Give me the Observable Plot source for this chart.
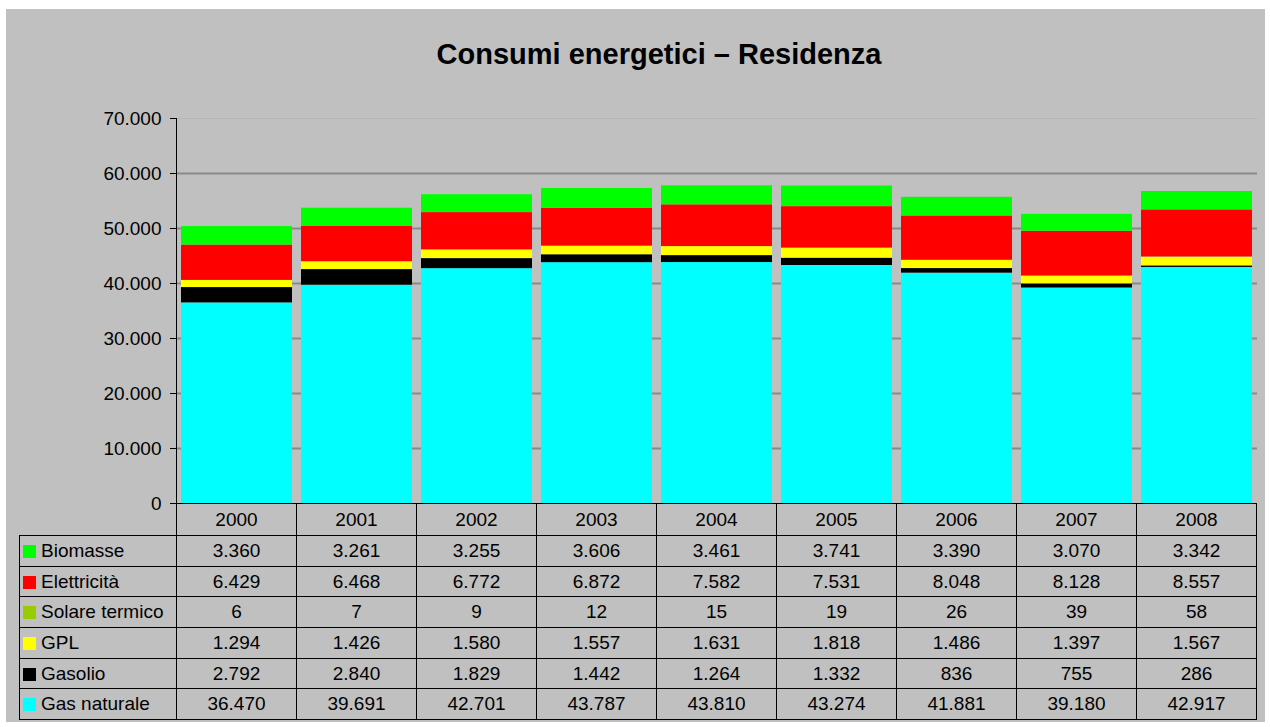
<!DOCTYPE html>
<html>
<head>
<meta charset="utf-8">
<script src="https://cdn.jsdelivr.net/npm/d3@7"></script>
<script src="https://cdn.jsdelivr.net/npm/@observablehq/plot@0.6"></script>
<style>
  html, body { margin: 0; padding: 0; background: #ffffff; }
  #frame { position: relative; width: 1270px; height: 727px; overflow: hidden; font-family: "Liberation Sans", Arial, sans-serif; color: #000; }
  #bg { position: absolute; left: 6px; top: 9px; width: 1259px; height: 713px; background: #c0c0c0; }
  #title { position: absolute; left: 359px; width: 600px; top: 38px; text-align: center; font-size: 29px; font-weight: bold; white-space: nowrap; }
  #chart { position: absolute; left: 0; top: 0; }
  #tbl { position: absolute; left: 19px; top: 503px; border-collapse: collapse; table-layout: fixed; font-size: 19px; }
  #tbl td { border: 1px solid #000; padding: 0; text-align: center; white-space: nowrap; overflow: hidden; }
  #tbl tr.head td { height: 31px; }
  #tbl tr.body td { height: 29.7px; }
  #tbl td.blank { border: none; }
  #tbl td.lab { text-align: left; padding-left: 3px; }
  .sw { display: inline-block; width: 13px; height: 13px; margin-right: 5px; vertical-align: -1px; }
</style>
</head>
<body>
<div id="frame">
  <div id="bg"></div>
  <div id="title">Consumi energetici – Residenza</div>
  <div id="chart"></div>
</div>
<script>
const years = ["2000","2001","2002","2003","2004","2005","2006","2007","2008"];
const seriesNames = ["Gas naturale","Gasolio","GPL","Solare termico","Elettricità","Biomasse"];
const seriesColors = ["#00ffff","#000000","#ffff00","#99cc00","#ff0000","#00ff00"];
const gasNaturale  = [36470, 39691, 42701, 43787, 43810, 43274, 41881, 39180, 42917];
const gasolio      = [2792, 2840, 1829, 1442, 1264, 1332, 836, 755, 286];
const gpl          = [1294, 1426, 1580, 1557, 1631, 1818, 1486, 1397, 1567];
const solareTermico= [6, 7, 9, 12, 15, 19, 26, 39, 58];
const elettricita  = [6429, 6468, 6772, 6872, 7582, 7531, 8048, 8128, 8557];
const biomasse     = [3360, 3261, 3255, 3606, 3461, 3741, 3390, 3070, 3342];
const yTicks = [0, 10000, 20000, 30000, 40000, 50000, 60000, 70000];
const tableOrder = ["Biomasse","Elettricità","Solare termico","GPL","Gasolio","Gas naturale"];

const seriesValues = [gasNaturale, gasolio, gpl, solareTermico, elettricita, biomasse];
const data = [];
seriesNames.forEach((s, i) => years.forEach((y, j) => data.push({year: y, series: s, value: seriesValues[i][j]})));

const it = d3.formatLocale({decimal: ",", thousands: ".", grouping: [3], currency: ["€", ""]});
const fmt = it.format(",d");

const plot = Plot.plot({
  width: 1270,
  height: 520,
  marginLeft: 176,
  marginRight: 13,
  marginTop: 118,
  marginBottom: 17,
  style: {background: "transparent", fontFamily: "'Liberation Sans', Arial, sans-serif", fontSize: "19px", color: "#000"},
  x: {domain: years, paddingInner: 0.075, paddingOuter: 0.0375, axis: null},
  y: {domain: [0, 70000], ticks: yTicks, tickFormat: fmt, label: null},
  color: {domain: seriesNames, range: seriesColors},
  marks: [
    Plot.gridY(yTicks.filter(t => t > 0 && t < 70000), {stroke: "#8a8a8a", strokeOpacity: 1, strokeWidth: 2}),
    Plot.gridY([70000], {stroke: "#b4b4b4", strokeOpacity: 1, strokeWidth: 1}),
    Plot.barY(data, Plot.stackY({x: "year", y: "value", fill: "series", order: seriesNames})),
    Plot.axisY(yTicks, {tickSize: 6, tickPadding: 9, tickFormat: fmt, stroke: "#000", fill: "#000", fontSize: 19, label: null}),
    Plot.frame({anchor: "left", stroke: "#000"}),
    Plot.ruleY([0], {stroke: "#000"})
  ]
});
document.getElementById("chart").appendChild(plot);

// Data table aligned to the x scale
const xs = plot.scale("x");
const step = xs.step;
const firstW = 176 - 19;
const tbl = document.createElement("table");
tbl.id = "tbl";
const cg = document.createElement("colgroup");
const c0 = document.createElement("col"); c0.style.width = firstW + "px"; cg.appendChild(c0);
years.forEach(() => { const c = document.createElement("col"); c.style.width = step + "px"; cg.appendChild(c); });
tbl.appendChild(cg);
tbl.style.width = (firstW + step * years.length) + "px";
const hr = document.createElement("tr"); hr.className = "head";
const blank = document.createElement("td"); blank.className = "blank"; hr.appendChild(blank);
years.forEach(y => { const td = document.createElement("td"); td.textContent = y; hr.appendChild(td); });
tbl.appendChild(hr);
tableOrder.forEach(s => {
  const i = seriesNames.indexOf(s);
  const tr = document.createElement("tr"); tr.className = "body";
  const lab = document.createElement("td"); lab.className = "lab";
  const sw = document.createElement("span"); sw.className = "sw"; sw.style.background = seriesColors[i];
  lab.appendChild(sw); lab.appendChild(document.createTextNode(s));
  tr.appendChild(lab);
  seriesValues[i].forEach(v => { const td = document.createElement("td"); td.textContent = fmt(v); tr.appendChild(td); });
  tbl.appendChild(tr);
});
document.getElementById("frame").appendChild(tbl);
</script>
</body>
</html>
